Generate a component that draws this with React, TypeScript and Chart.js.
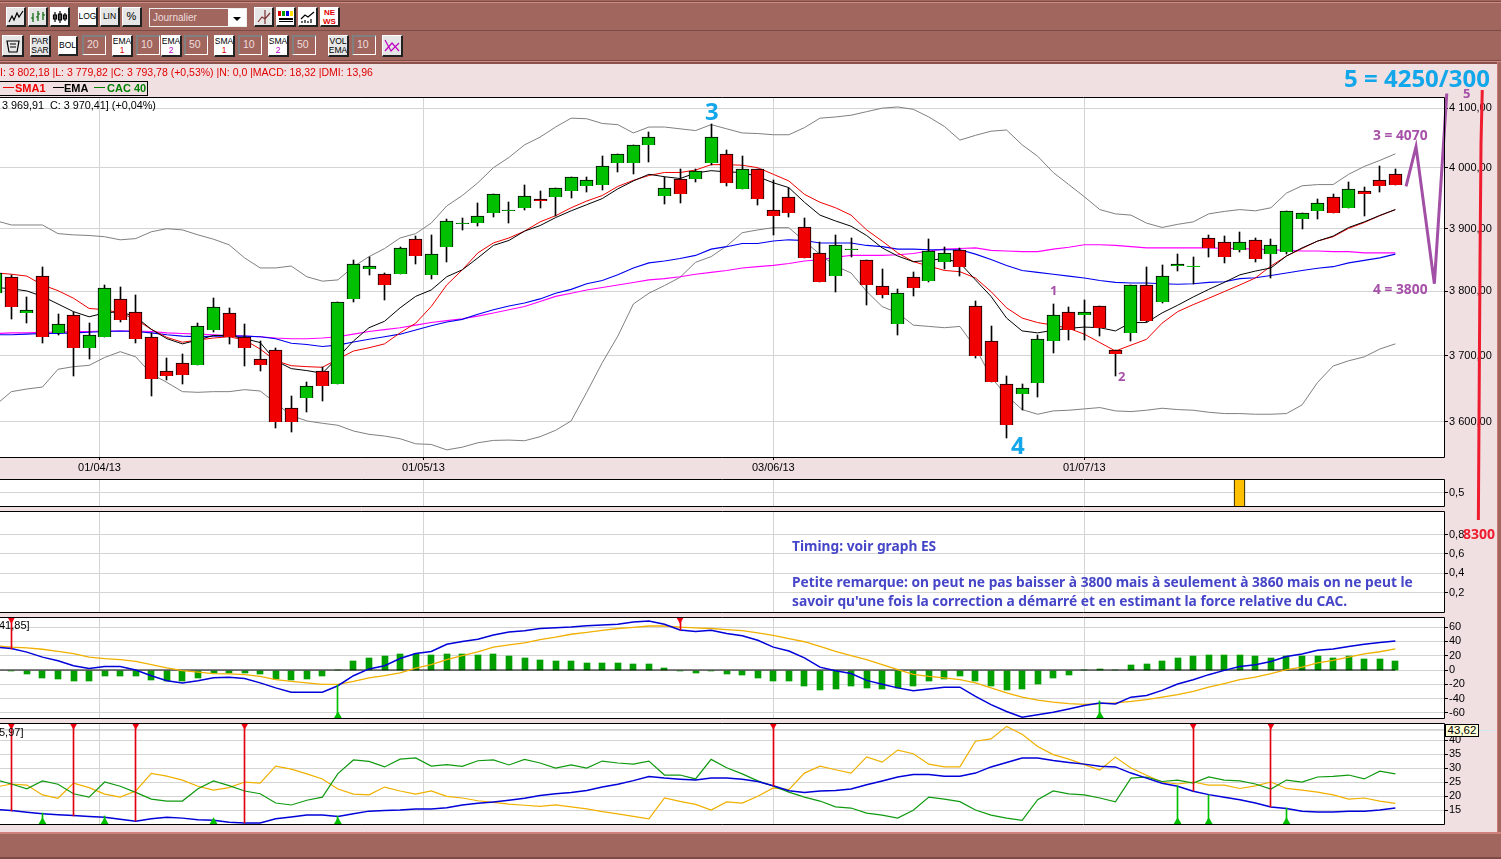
import React, { useEffect, useRef } from "react";
import { Chart, registerables } from "chart.js";
Chart.register(...registerables);

// ---------- DATA ----------
const opens = [3797,3822,3766,3824,3735,3763,3711,3729,3788,3768,3728,3677,3689,3686,3740,3766,3729,3694,3709,3620,3635,3676,3656,3788,3835,3827,3827,3884,3826,3871,3908,3910,3925,3928.5,3933,3949,3951,3961,3969,3971,4007,4008,4037,3954,3982,3982,4007,4023,3964,3997,3931,3952,3902,3861,3824,3865.5,3850,3808,3748,3822,3816,3847,3866,3777,3722,3656,3642,3658,3722,3768,3763,3777,3709,3735,3810,3783,3840,3840,3885,3879,3866,3882,3860,3863,3915,3928,3951,3933,3962,3979,3989];
const highs = [3835,3825,3791,3838,3765,3768,3751,3810,3807,3794,3735,3696,3703,3751,3790,3774,3748,3723,3712,3638,3659,3682,3783,3850,3855,3829,3871,3888,3889,3915,3917,3941,3957,3943,3972,3962,3967,3984,3985,4020,4023,4037,4059,3985,3998,3998,4073,4030,4020,3998,3980,3966,3917,3879,3890,3885,3850,3835,3803,3830,3884,3871,3869,3784,3745,3668,3656,3731,3780,3775,3786,3777,3709,3810,3838,3842,3860,3855,3889,3888,3894,3885,3884,3928,3926,3948,3956,3977,3968,4003,3998];
const lows = [3790,3756,3750,3719,3731,3669,3695,3729,3752,3719,3639,3663,3656,3686,3736,3718,3684,3677,3590,3585,3615,3631,3656,3783,3825,3787,3827,3843,3819,3847,3898,3904,3919,3909,3931,3934,3921,3950,3959,3963,3993,3989,4009,3940,3942,3977,4005,3970,3964,3939,3890,3919,3853,3815,3799.5,3855,3779,3790,3732,3793,3814,3835,3824,3696,3659,3575,3618,3637,3704,3724,3724,3730,3669,3722,3752,3781,3832,3811,3854,3845,3862,3847,3821,3860,3900,3916,3925,3933,3921,3960,3971];
const closes = [3829,3775,3771,3729,3749,3712,3732,3805,3755,3726,3664,3668,3671,3745,3775,3729,3711,3686,3600,3600,3653,3653,3783,3843.5,3840,3810,3869,3856,3860,3913,3909.5,3921,3957,3930,3954,3945,3967,3984,3980,4002,4023,4037,4052,3967,3957,3995,4052,3975,3997,3949,3921,3926,3853,3815,3873,3867,3810,3794,3797,3805,3864,3861,3839,3700,3659,3595,3650,3726,3763,3740,3768,3743,3703,3810,3754,3824,3844,3840.5,3869,3855,3879,3852,3873,3928,3926,3941,3925,3964,3957,3969,3971];

const bollUpper = [3913,3906,3906,3906,3892,3890,3889,3887,3882,3884,3895,3900,3898,3890,3883,3874,3853,3837,3837,3840,3823,3816,3818,3839,3855,3868,3885,3892,3909,3937,3954,3975,4000,4017,4038,4051,4068,4083,4082,4074,4072,4058,4068,4068,4065,4062,4072,4065,4058,4057,4055,4055,4067,4083,4085,4088,4094,4100,4102,4098,4085,4069,4046,4054,4061,4063,4038,4019,3992,3972,3952,3931,3924,3922,3909,3902,3907,3911,3924,3928,3931,3929,3934,3958,3970,3972,3972,3989,4002,4012,4023];
const bollLower = [3625,3645,3649,3652,3679,3683,3685,3697,3706,3698,3672,3659,3645,3644,3645,3645,3648,3646,3628,3609,3601,3597.5,3594.5,3586,3581,3578.5,3574.5,3567,3566,3558,3562,3568.5,3572,3572.5,3571.5,3577.5,3587,3601,3644,3689,3730,3780,3797,3809,3822,3846,3855,3872,3893.5,3898,3901.6,3901.6,3880,3858.6,3840,3829,3800,3776,3766,3747,3745,3743,3745,3712,3667,3639,3618,3611,3616,3617,3619,3621,3616,3615,3617,3620,3618,3617,3614,3612,3612,3611,3611,3612,3625,3659,3684,3692,3698,3710,3718];
const sma1 = [3829,3827,3824,3810,3801,3789,3773,3771,3766,3756,3740.5,3728,3720.5,3724,3727,3729,3724,3710,3692,3684.5,3683,3682,3694.5,3707,3712,3718,3735,3750,3776,3810,3834,3861,3877,3885,3896,3911,3921,3934,3945,3954,3969,3979,3987,3992,3992,3996,4005,4005,4004,4000,3989,3978,3956,3943,3934,3922,3898,3880,3861,3847,3840,3833,3831,3821,3799.5,3774,3758,3751,3747,3742,3733,3720,3707,3716,3725,3750,3768,3779,3789,3799.5,3810,3821,3840,3856,3868,3880,3887,3900.5,3910,3921,3931];
const ema1 = [3806,3804,3800.5,3792,3780,3768,3760,3766,3768,3760,3740.5,3726,3718,3724,3731,3731,3726,3720,3692,3680,3677,3673,3697,3722.5,3743,3753,3774,3792,3802,3823,3834,3853,3873,3881,3896,3905,3918,3929,3939,3949,3965,3978,3989,3985,3982,3991,3995,3993,3992,3985,3975,3967,3943,3922,3912.5,3904,3889,3869,3856,3847,3849,3852,3845,3818,3792,3758,3738,3735,3739,3742,3744,3743,3738,3751,3751,3766,3778,3791,3803,3814,3826,3832,3837,3856,3869,3880,3888,3902,3911,3921.5,3931];
const sma50 = [3732,3732,3733,3734,3734,3735,3736,3737,3738,3737,3735,3732,3730,3729,3730,3730,3730,3729,3726,3719,3717,3714,3716,3721,3725,3729,3733,3739.5,3746,3752,3756,3764,3771,3777,3781.5,3788,3797,3803,3812,3817,3826,3837,3845,3848,3852,3857,3867,3871,3876,3876,3880,3882,3881,3877,3877,3877,3873,3871,3867,3867,3866,3866,3866,3859,3850.5,3841,3833,3830,3827,3824,3821,3817,3814,3813,3813,3812,3811,3812,3814,3815,3820,3821.5,3825,3829,3833,3836.5,3839,3845,3849,3853,3859];
const ema50 = [3734,3735,3735,3736,3736,3737,3737,3738,3738,3738,3737,3735,3734,3733,3732,3731,3730,3729,3727,3726,3726,3727,3729,3733,3737,3740,3743,3747,3751,3754,3757,3761,3766,3771,3776,3784,3792,3797,3802,3806,3810,3814,3818,3820,3823,3827,3830,3833,3837,3839,3841,3844,3848,3850,3854,3857,3857,3857,3858,3860,3864,3867,3868,3869,3865,3864,3863,3863,3867,3870,3874,3874,3873,3871,3869,3869,3869,3869,3869,3868,3868,3867,3866,3865,3864,3864,3863,3863,3861,3861,3861];

const histogram = [0,-2,-5,-11,-12,-15,-15,-9,-8,-9,-13.5,-15,-16,-11,-4,-4,-4,-5,-12,-13.5,-12,-9,0,12,17,19,23,23,21,23,23,21,23,20,17,14,13,13,10,10,10,9,9,3,-2,-4,-2,-5,-6.5,-11,-15,-16,-22,-27.5,-26,-23,-25,-26,-25,-22,-16,-12,-8,-15,-22,-27.5,-26,-19,-11,-6.5,0,2,0,7.5,9,13,17,19,21,21,21,19,17,20,20,20,17,19,16,16,13];
const macdLine = [32,30,25,18,13,6,2,5,5,0,-8,-15,-18,-15,-11,-10,-12,-18,-25,-31,-31,-31,-22,-8,1.5,6,16,23,26,36,40,43,49,53,55,58,59,60,62,63,64,67,68.5,64,56,54,55.5,51,48,41.5,32,26.5,17,4,-1,-5,-14.5,-20,-25,-29,-26.5,-24,-24,-37,-48.5,-58,-66,-62.5,-59,-54.5,-49.5,-46,-47.5,-38,-35.5,-28.5,-19.5,-13.5,-6.5,-0.5,5,7.5,12,19,22.5,27.5,29.5,33,36,38.5,40.5];
const macdSignal = [34,32,31,29,26,23,18,16,14.5,12,7.5,3,-1,-3,-5,-5.5,-6.5,-9,-13.5,-16,-18,-20,-20,-16,-11,-8,-4,2.5,7.5,14.5,20,25.5,32,35,38,42.5,46,50,52.5,55.5,58,59.7,61.5,61.5,60,59,58,56.5,55,52,48.5,44,39.5,33,26,20,14.5,7.5,0.5,-6,-9,-11,-13.5,-18,-25,-32,-38,-42,-45,-47,-48,-47,-46,-44,-41.5,-38,-34.5,-30,-24,-19,-13.5,-10,-5,0.5,4,10,13.5,18,22.5,25.5,29.5];

const adx = [15.2,14.8,14.2,13.7,13.3,13,12.7,12.4,11.7,11,11.9,12.4,12.1,11.5,11.3,10.6,10.4,10.4,11.9,12.5,13.2,13.2,12.7,13.7,14.6,14.8,15,15.4,15.4,15.8,16.8,17.4,17.9,18.5,19.2,20.2,20.8,21.3,22,23.2,24.2,25.5,27,26.4,26,25.7,26.4,26.4,26,25.2,23.7,21.9,21.3,21.8,22,22.5,24,25.4,26.8,27.7,27.7,27.1,27.1,28.2,30.4,32,33.6,33.6,32.7,32,31.4,30.6,30.4,28.2,26.4,24.6,23.5,21.7,20.5,19.6,18.7,17.5,16.1,15.5,14.6,14.3,14.3,14.6,14.6,15,15.7];
const diPlus = [25.8,24.3,22.6,25.4,24.2,20.8,19.6,25,23.5,21.3,18.9,18.2,18.2,22.6,25.4,23.7,21.8,20.8,17.5,16.8,18.5,19.6,28,32.9,32.4,30.4,33.2,33.6,30.7,31.2,30.6,32.6,32.9,31.1,33.1,31.8,30,31.1,30,32.5,31.8,31.4,32.5,27.5,27.5,26.1,33.1,30.1,27.9,25.4,23.5,21.4,19.6,18.2,16.1,15.7,13.9,13.2,12.1,14.9,19.6,18.9,18,15,13.2,12.1,11.3,18.7,21.8,20.8,20.4,19.3,17.9,26.4,26.8,25.2,25.7,24.6,26.8,25.7,25.4,24.3,22.5,25.7,25,26.8,27,27.5,26.1,28.9,27.9];
const diMinus = [23.2,24.3,23.9,20.4,19.2,24.6,23,20.7,19.6,21.8,28.1,27.1,25.7,23.5,22.1,23,25,24.6,30.7,29.6,27.9,26.1,22.5,20.7,20.4,23.2,21.8,20.7,21.8,19.9,19.3,18.3,17.7,17.1,16.7,16.3,16.8,16.1,15.4,14.4,13.6,12.7,11.8,19.3,18.1,17,15,17.9,17.5,19.9,22.9,22.3,28.2,30.7,29.4,28.2,34,32.1,36.4,35.1,31.4,30.4,30.4,39.6,40.4,44.9,42.1,37.7,34.8,33.2,31.2,29.3,33.9,30,27.4,25,24.3,25,23.9,23.9,22.7,23.6,25,22.7,22.1,21.4,20.4,18.9,19.3,18.2,17.4];

const macdSellIdx = [1, 44];
const macdSellVal = [30, 56];
const macdBuyIdx = [22, 71];
const macdBuyVal = [-20.5, -44];
const dmiSellIdx = [1, 5, 9, 16, 50, 77, 82];
const dmiSellVal = [14.8, 13, 11, 10.4, 23.7, 21.7, 16.1];
const dmiBuyIdx = [3, 7, 14, 22, 76, 78, 83];
const dmiBuyVal = [13.9, 12.8, 11.3, 12.7, 23.5, 20.5, 15.7];
const volFlagIdx = [80];
const volFlagVal = [1];
const dmiCursor = 43.62;

const dateTickPos = [6.67, 27.5, 50, 70];
const dateTickLabels = ["01/04/13", "01/05/13", "03/06/13", "01/07/13"];
const priceTicks = [3600, 3700, 3800, 3900, 4000, 4100];
const macdTicks = [-60, -40, -20, 0, 20, 40, 60];
const dmiTicks = [15, 20, 25, 30, 35, 40];
const panelCTicks = [0.2, 0.4, 0.6, 0.8];
const panelBTicks = [0.5];
const waveIdx = [90.69, 91.33, 92.51, 93.31];
const waveVal = [3969, 4035, 3812, 4125];
const targetIdx = [95.59, 95.51, 95.45, 95.34];
const targetVal = [4131, 4040, 3860, 3456];

// ---------- STYLE ----------
const WIDTH = 1501;
const AXIS_W = 57;
const X_MIN = 0.27;
const X_MAX = 93.13;
const GRID = "#D4D4D4";
const GREEN = "#00C000";
const RED = "#F00000";
const PINK = "#F0E0E1";
const BROWN = "#A1665E";
const TICK_FONT = { family: "'Liberation Sans', Arial, sans-serif", size: 11 };

const series = (v: number[]) => v.map((y, x) => ({ x, y }));
const pairs = (xs: number[], ys: number[]) => xs.map((x, i) => ({ x, y: ys[i] }));
const line = (data: any[], color: string, width: number, order = 3, extra: any = {}) => ({
  type: "line", data, borderColor: color, borderWidth: width, pointRadius: 0, tension: 0, order, ...extra,
});
const floatBar = (data: any[], color: any, thickness: number, order: number, extra: any = {}) => ({
  type: "bar", data, backgroundColor: color, borderWidth: 0, barThickness: thickness, grouped: false, order, ...extra,
});
const markers = (data: any[], color: string, rotation: number) => ({
  type: "line", data, showLine: false, pointStyle: "triangle", pointRadius: 4.5, pointRotation: rotation,
  pointBackgroundColor: color, pointBorderWidth: 0, order: 0,
});
const shafts = (xs: number[], from: number[], to: number, color: string) =>
  floatBar(xs.map((x, i) => ({ x, y: [from[i], to] })), color, 1, 1);

const framePlugin = {
  id: "frame",
  beforeDraw(chart: any) {
    const { ctx, chartArea: a } = chart;
    ctx.save(); ctx.fillStyle = "#fff";
    ctx.fillRect(a.left, a.top, a.right - a.left, a.bottom - a.top);
    ctx.restore();
  },
  afterDraw(chart: any) {
    const { ctx, chartArea: a } = chart;
    ctx.save(); ctx.strokeStyle = "#000"; ctx.lineWidth = 1;
    ctx.beginPath();
    ctx.moveTo(a.left, a.top + 0.5); ctx.lineTo(a.right + 0.5, a.top + 0.5);
    ctx.lineTo(a.right + 0.5, a.bottom + 0.5); ctx.lineTo(a.left, a.bottom + 0.5);
    ctx.stroke(); ctx.restore();
  },
};
const snapPlugin = {
  id: "snap",
  afterDatasetsUpdate(chart: any) {
    chart.getSortedVisibleDatasetMetas().forEach((m: any) => {
      if (m.type !== "bar") return;
      m.data.forEach((el: any) => {
        el.x = el.width % 2 ? Math.floor(el.x) + 0.5 : Math.round(el.x);
        el.y = Math.round(el.y); el.base = Math.round(el.base);
        if (Math.abs(el.y - el.base) < 1 && m.controller.getDataset().minOne) el.base = el.y + 1;
      });
    });
  },
};

function makeChart(canvas: HTMLCanvasElement, p: any) {
  const H = p.canvasBottom - p.canvasTop;
  canvas.width = WIDTH; canvas.height = H;
  const showDates = !!p.showDates;
  return new Chart(canvas, {
    type: "line",
    data: { datasets: p.datasets },
    plugins: [framePlugin, snapPlugin],
    options: {
      animation: false, responsive: false, devicePixelRatio: 1, events: [],
      layout: { autoPadding: false, padding: { left: 0, right: 0, top: p.top - p.canvasTop, bottom: p.canvasBottom - p.bottom - (showDates ? 20 : 0) } },
      plugins: { legend: { display: false }, tooltip: { enabled: false } },
      scales: {
        x: {
          type: "linear", min: X_MIN, max: X_MAX, offset: false, display: true,
          afterBuildTicks: (s: any) => { s.ticks = dateTickPos.map((value) => ({ value })); },
          afterFit: (s: any) => { s.height = showDates ? 20 : 0; s.paddingLeft = 0; s.paddingRight = 0; },
          border: { display: false },
          grid: { color: GRID, offset: false, drawTicks: showDates, tickColor: "#000", tickLength: 3 },
          ticks: {
            display: showDates, autoSkip: false, maxRotation: 0, color: "#000", font: TICK_FONT, padding: 1,
            callback: (v: number) => dateTickLabels[dateTickPos.indexOf(v)],
          },
        },
        y: {
          type: p.logY ? "logarithmic" : "linear", position: "right", min: p.min, max: p.max,
          afterBuildTicks: (s: any) => { s.ticks = p.ticks.map((value: number) => ({ value })); },
          afterFit: (s: any) => { s.width = AXIS_W; s.paddingTop = 0; s.paddingBottom = 0; },
          border: { display: false },
          grid: { color: GRID, tickColor: "#000", tickLength: 4 },
          ticks: { autoSkip: false, color: "#000", font: TICK_FONT, padding: 1, callback: p.fmt },
        },
      },
    },
  } as any);
}

const fmtPrice = (v: number) => `${Math.floor(v / 1000)} ${String(v % 1000).padStart(3, "0")},00`;
const fmtDec = (v: number) => String(v).replace(".", ",");
const fmtInt = (v: number) => String(v);

// ---------- PANELS ----------
const panelMain = {
  canvasTop: 0, canvasBottom: 530, top: 97, bottom: 457, min: 3547.5, max: 4119, logY: true,
  ticks: priceTicks, fmt: fmtPrice, showDates: true,
  datasets: [
    line(pairs(waveIdx, waveVal), "#A24FA6", 3, 0, { clip: false }),
    line(pairs(targetIdx, targetVal), "#EE1C2E", 3, 0, { clip: false }),
    floatBar(opens.map((o, i) => ({ x: i, y: [o, closes[i]] })),
      opens.map((o, i) => (closes[i] >= o ? GREEN : RED)), 13, 1, {
        borderWidth: 1, minOne: true,
        borderColor: opens.map((o, i) => (Math.abs(closes[i] - o) < 1 ? GREEN : "#000")),
      }),
    floatBar(lows.map((l, i) => ({ x: i, y: [l, highs[i]] })), "#000", 1, 2),
    line(series(ema1), "#000000", 1),
    line(series(sma1), "#F00000", 1),
    line(series(sma50), "#0000F0", 1.1),
    line(series(ema50), "#FF00FF", 1.1),
    line(series(bollUpper), "#808080", 1, 4),
    line(series(bollLower), "#808080", 1, 4),
  ],
};
const panelFlag = {
  canvasTop: 465, canvasBottom: 520, top: 479, bottom: 506, min: 0, max: 1, ticks: panelBTicks, fmt: fmtDec,
  datasets: [
    floatBar(pairs(volFlagIdx, volFlagVal).map((d) => ({ x: d.x, y: [0, d.y] })), "#FFC000", 11, 1, { borderWidth: 1, borderColor: "#000" }),
  ],
};
const panelNote = {
  canvasTop: 497, canvasBottom: 626, top: 511, bottom: 612, min: 0, max: 1.043, ticks: panelCTicks, fmt: fmtDec,
  datasets: [],
};
const panelMacd = {
  canvasTop: 603, canvasBottom: 732, top: 617, bottom: 718, min: -67.1, max: 74.1, ticks: macdTicks, fmt: fmtInt,
  datasets: [
    markers(pairs(macdSellIdx, macdSellIdx.map(() => 71)), "#F00010", 180),
    markers(pairs(macdBuyIdx, macdBuyIdx.map(() => -64)), "#00C000", 0),
    shafts(macdSellIdx, macdSellVal, 74, "#E00010"),
    shafts(macdBuyIdx, macdBuyVal, -67, "#00C000"),
    line(series(macdLine), "#0000D8", 1.5, 2),
    line(series(macdSignal), "#F0B000", 1.3, 3),
    line(pairs([X_MIN, 90], [0, 0]), "#000", 1, 4),
    floatBar(series(histogram), "#00A000", 6, 5),
  ],
};
const panelDmi = {
  canvasTop: 709, canvasBottom: 832, top: 723, bottom: 824, min: 10, max: 46.1, ticks: dmiTicks, fmt: fmtInt,
  datasets: [
    markers(pairs(dmiSellIdx, dmiSellIdx.map(() => 45.3)), "#F00010", 180),
    markers(pairs(dmiBuyIdx, dmiBuyIdx.map(() => 10.8)), "#00C000", 0),
    shafts(dmiSellIdx, dmiSellVal, 46, "#E00010"),
    shafts(dmiBuyIdx, dmiBuyVal, 10, "#00C000"),
    line(series(adx), "#0000D8", 1.5, 2),
    line(series(diPlus), "#109A10", 1.2, 3),
    line(series(diMinus), "#F0B000", 1.2, 3),
    line(pairs([X_MIN, X_MAX], [dmiCursor, dmiCursor]), "#B0B0B0", 1, 4),
  ],
};

// ---------- PAGE PIECES ----------
const Txt = ({ x, y, c, s, w = 700, f = "'Noto Sans', sans-serif", children, z = 10, extra = {} }: any) => (
  <div style={{ position: "absolute", left: x, top: y, color: c, fontSize: s, fontWeight: w, fontFamily: f, lineHeight: 1, whiteSpace: "nowrap", zIndex: z, ...extra }}>{children}</div>
);
const Box = ({ x, y, w, h, bg, style = {}, children }: any) => (
  <div style={{ position: "absolute", left: x, top: y, width: w, height: h, background: bg, ...style }}>{children}</div>
);
const MONO = "'Liberation Sans', Arial, sans-serif";
const Btn = ({ x, y, w = 20, h = 20, bg = "#E6E6E6", children }: any) => (
  <div style={{
    position: "absolute", left: x, top: y, width: w, height: h, background: bg, boxSizing: "border-box",
    borderStyle: "solid", borderWidth: "1px 2px 2px 1px", borderColor: "#fff #222 #222 #fff",
    display: "flex", flexDirection: "column", alignItems: "center", justifyContent: "center",
    fontFamily: MONO, fontSize: 8.5, lineHeight: "9px", color: "#000", textAlign: "center", overflow: "hidden",
  }}>{children}</div>
);
const Field = ({ x, y, w = 24, h = 20, children }: any) => (
  <div style={{
    position: "absolute", left: x, top: y, width: w, height: h, boxSizing: "border-box", background: BROWN,
    borderStyle: "solid", borderWidth: "2px 1px 1px 2px", borderColor: "#808080 #fff #fff #808080",
    color: "#EEDDDD", fontFamily: MONO, fontSize: 10.5, lineHeight: "15px", paddingLeft: 3,
  }}>{children}</div>
);
const Icon = ({ d, stroke = "#000" }: any) => (
  <svg width="16" height="16" viewBox="0 0 16 16"><path d={d} fill="none" stroke={stroke} strokeWidth="1.2" /></svg>
);

function Toolbar() {
  return (
    <>
      <Box x={0} y={0} w={1501} h={64} bg={BROWN} />
      <Box x={0} y={1} w={1501} h={1} bg="#7C4A44" />
      <Box x={0} y={2} w={1501} h={1} bg="#D08A80" />
      <Box x={0} y={30} w={1501} h={1} bg="#7C4A44" />
      <Box x={0} y={60} w={1501} h={1} bg="#7C4A44" />
      <Box x={0} y={61} w={1501} h={1} bg="#D08A80" />
      <Btn x={6} y={7}><Icon d="M1 13 L4 7 L6 11 L9 4 L11 8 L15 2" /></Btn>
      <Btn x={28} y={7}><Icon d="M3 4 V13 M1 9 H3 M8 2 V12 M6 8 H8 M8 5 H10 M13 3 V11 M13 6 H15" stroke="#006000" /></Btn>
      <Btn x={50} y={7} bg="#fff"><Icon d="M3 3 V13 M8 2 V14 M13 4 V12 M6.5 5 H9.5 V11 H6.5 Z M1.5 6 H4.5 V10 H1.5 Z M11.5 6 H14.5 V10 H11.5 Z" /></Btn>
      <Btn x={78} y={7} bg="#fff">LOG</Btn>
      <Btn x={100} y={7}>LIN</Btn>
      <Btn x={122} y={7}><span style={{ fontSize: 11 }}>%</span></Btn>
      <div style={{ position: "absolute", left: 149, top: 8, width: 98, height: 19, boxSizing: "border-box", background: BROWN, border: "1px solid #eee", color: "#EEDDDD", fontFamily: MONO, fontSize: 10, lineHeight: "17px", paddingLeft: 3 }}>
        Journalier
        <div style={{ position: "absolute", right: 0, top: 0, width: 18, height: 17, background: "#fff" }}>
          <div style={{ position: "absolute", left: 5, top: 8, borderLeft: "4px solid transparent", borderRight: "4px solid transparent", borderTop: "4px solid #000" }} />
        </div>
      </div>
      <Btn x={254} y={7}><Icon d="M2 13 L6 8 L9 10 L14 4 M9 1 V15" stroke="#803030" /></Btn>
      <Btn x={276} y={7} bg="#fff">
        <div style={{ display: "flex", gap: 1 }}>
          {["#E00000", "#00A000", "#0000E0", "#FFE000"].map((c) => <div key={c} style={{ width: 3, height: 5, background: c }} />)}
        </div>
        <div style={{ width: 14, height: 2, background: "#000", marginTop: 2 }} />
        <div style={{ width: 14, height: 1, background: "#000", marginTop: 1 }} />
      </Btn>
      <Btn x={298} y={7} bg="#fff"><Icon d="M1 10 L5 6 L8 8 L14 3 M2 14 V12 M5 14 V11 M8 14 V12 M11 14 V10" /></Btn>
      <Btn x={320} y={7} bg="#fff"><span style={{ color: "#E00000", fontWeight: 700, fontSize: 8 }}>NE<br />WS</span></Btn>

      <Btn x={2} y={35} w={22} h={22}><Icon d="M2 3 H14 L12 14 H4 Z M5 6 H11 M5 9 H11" /></Btn>
      <Btn x={30} y={35} w={21} h={22}>PAR<br />SAR</Btn>
      <Btn x={58} y={36} bg="#fff">BOL</Btn>
      <Field x={82} y={35}>20</Field>
      <Btn x={112} y={35} w={21} h={22} bg="#fff">EMA<br /><span style={{ color: "#E00000" }}>1</span></Btn>
      <Field x={136} y={35}>10</Field>
      <Btn x={161} y={35} w={21} h={22} bg="#fff">EMA<br /><span style={{ color: "#C000C0" }}>2</span></Btn>
      <Field x={184} y={35}>50</Field>
      <Btn x={214} y={35} w={21} h={22} bg="#fff">SMA<br /><span style={{ color: "#E00000" }}>1</span></Btn>
      <Field x={238} y={35}>10</Field>
      <Btn x={268} y={35} w={21} h={22} bg="#fff">SMA<br /><span style={{ color: "#C000C0" }}>2</span></Btn>
      <Field x={292} y={35}>50</Field>
      <Btn x={328} y={35} w={21} h={22}>VOL<br />EMA</Btn>
      <Field x={352} y={35}>10</Field>
      <Btn x={382} y={35} w={21} h={22}><Icon d="M1 2 L7 13 L15 5 M1 13 L8 5 L15 13" stroke="#C000C0" /></Btn>
    </>
  );
}

function Legend() {
  const seg = (x: number, c: string) => <Box x={x} y={87} w={11} h={1} bg={c} />;
  return (
    <>
      <Box x={-2} y={81} w={150} h={15} bg={PINK} style={{ border: "1px solid #000", boxSizing: "border-box" }} />
      {seg(3, "#F00000")}
      <Txt x={15} y={83} c="#F00000" s={11} f={MONO}>SMA1</Txt>
      {seg(53, "#000")}
      <Txt x={64} y={83} c="#000" s={11} f={MONO}>EMA</Txt>
      {seg(94, "#008000")}
      <Txt x={107} y={83} c="#008000" s={11} f={MONO}>CAC 40</Txt>
    </>
  );
}

export default function App() {
  const refs = [useRef<HTMLCanvasElement>(null), useRef<HTMLCanvasElement>(null), useRef<HTMLCanvasElement>(null), useRef<HTMLCanvasElement>(null), useRef<HTMLCanvasElement>(null)];
  const panels = [panelFlag, panelNote, panelMacd, panelDmi, panelMain];
  useEffect(() => {
    const charts = panels.map((p, i) => makeChart(refs[i].current as HTMLCanvasElement, p));
    return () => charts.forEach((c) => c.destroy());
  }, []);
  const purple = "#A650A8";
  const sky = "#12A6EA";
  const blueTxt = "#4646C8";
  return (
    <div style={{ position: "fixed", left: 0, top: 0, width: 1501, height: 859, overflow: "hidden", background: PINK }}>
      <Toolbar />
      {/* window frame */}
      <Box x={0} y={62} w={1501} h={2} bg="#8A524C" />
      <Box x={1497} y={62} w={4} h={797} bg={BROWN} style={{ borderLeft: "1px solid #C87870", boxSizing: "border-box" }} />
      <Box x={0} y={832} w={1501} h={27} bg={BROWN} style={{ borderTop: "2px solid #D0807A", boxSizing: "border-box" }} />
      <Box x={0} y={857} w={1501} h={2} bg="#7C4A44" />

      {panels.map((p, i) => (
        <canvas key={i} ref={refs[i]} style={{ position: "absolute", left: 0, top: p.canvasTop, zIndex: i === 4 ? 5 : 1, display: "block" }} />
      ))}

      <Txt x={0} y={67} c="#E00000" s={10.5} w={400} f={MONO}>I: 3 802,18 |L: 3 779,82 |C: 3 793,78 (+0,53%) |N: 0,0 |MACD: 18,32 |DMI: 13,96</Txt>
      <Legend />
      <Txt x={2} y={100} c="#000" s={10.8} w={400} f={MONO}>3 969,91&nbsp;&nbsp;C: 3 970,41] (+0,04%)</Txt>
      <Txt x={-1} y={620} c="#000" s={11} w={400} f={MONO}>41,85]</Txt>
      <Txt x={-1} y={727} c="#000" s={11} w={400} f={MONO}>5,97]</Txt>

      <Txt x={1344} y={66} c={sky} s={24}>5 = 4250/300</Txt>
      <Txt x={705} y={99} c={sky} s={24}>3</Txt>
      <Txt x={1011} y={433} c={sky} s={24}>4</Txt>
      <Txt x={1050} y={284} c={purple} s={13}>1</Txt>
      <Txt x={1118} y={370} c={purple} s={13}>2</Txt>
      <Txt x={1373} y={128} c={purple} s={13.8}>3 = 4070</Txt>
      <Txt x={1373} y={282} c={purple} s={13.8}>4 = 3800</Txt>
      <Txt x={1463} y={87} c={purple} s={13}>5</Txt>
      <Txt x={1463} y={527} c="#EE1C2E" s={14}>8300</Txt>

      <Txt x={792} y={539} c={blueTxt} s={13.75}>Timing: voir graph ES</Txt>
      <Txt x={792} y={575} c={blueTxt} s={13.75}>Petite remarque: on peut ne pas baisser à 3800 mais à seulement à 3860 mais on ne peut le</Txt>
      <Txt x={792} y={594} c={blueTxt} s={13.75}>savoir qu'une fois la correction a démarré et en estimant la force relative du CAC.</Txt>

      <div style={{ position: "absolute", left: 1445, top: 724, width: 34, height: 13, boxSizing: "border-box", background: "#FFFFD8", border: "1px solid #000", fontFamily: MONO, fontSize: 11.5, lineHeight: "11px", textAlign: "center", zIndex: 8 }}>43,62</div>
      <Box x={1479} y={730} w={16} h={1} bg="#CFE6EE" />
    </div>
  );
}
